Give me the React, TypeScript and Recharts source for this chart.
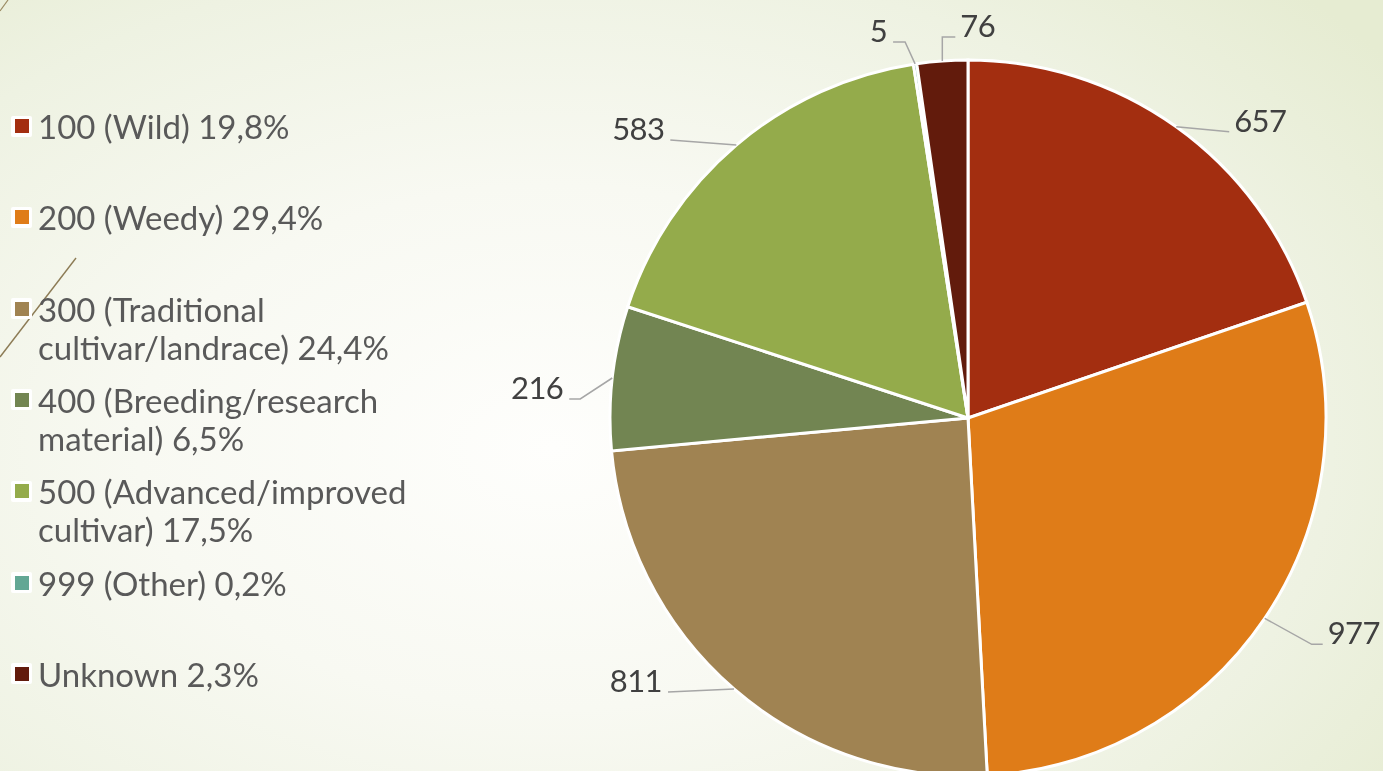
import React from 'react';
import { PieChart, Pie, Cell } from 'recharts';

const categories = [
  '100 (Wild)',
  '200 (Weedy)',
  '300 (Traditional cultivar/landrace)',
  '400 (Breeding/research material)',
  '500 (Advanced/improved cultivar)',
  '999 (Other)',
  'Unknown',
];
const counts = [657, 977, 811, 216, 583, 5, 76];
const colors = ['#A32E10', '#DF7C18', '#A08352', '#728552', '#94AB4B', '#62A794', '#621B0C'];

const total = counts.reduce((a, b) => a + b, 0);
const data = categories.map((name, i) => ({ name, value: counts[i] }));
const pctText = (v: number) => ((v / total) * 100).toFixed(1).replace('.', ',') + '%';

const FONT = 'Lato, "Open Sans", sans-serif';
const RAD = Math.PI / 180;

// leader-line shape per slice (relative to the slice edge point)
const LEADERS = [
  { ex: 53, ey: 5, hx: 0, anchor: 'start' },
  { ex: 47, ey: 26, hx: 11, anchor: 'start' },
  { ex: -66, ey: 3, hx: 0, anchor: 'end' },
  { ex: -32, ey: 21, hx: -11, anchor: 'end' },
  { ex: -66, ey: -5, hx: 0, anchor: 'end' },
  { ex: -10, ey: -22, hx: -12, anchor: 'end' },
  { ex: 0, ey: -24, hx: 13, anchor: 'start' },
];

const renderLabel = (props: any) => {
  const { cx, cy, midAngle, outerRadius, index, value } = props;
  const sx = cx + outerRadius * Math.cos(-midAngle * RAD);
  const sy = cy + outerRadius * Math.sin(-midAngle * RAD);
  const L = LEADERS[index];
  const mx = sx + L.ex;
  const my = sy + L.ey;
  const ex = mx + L.hx;
  const ey = my;
  const tx = L.anchor === 'start' ? ex + 5 : ex - 6;
  return (
    <g>
      <polyline
        points={`${sx},${sy} ${mx},${my} ${ex},${ey}`}
        fill="none"
        stroke="#A6A6A6"
        strokeWidth={1.5}
      />
      <text
        x={tx}
        y={ey}
        textAnchor={L.anchor}
        fill="#404040"
        fontSize={31}
        letterSpacing={-0.6}
        fontFamily={FONT}
      >
        {value}
      </text>
    </g>
  );
};

const W = 1383;
const H = 771;

export default function App() {
  return (
    <div
      style={{
        position: 'fixed',
        left: 0,
        top: 0,
        width: W,
        height: H,
        overflow: 'hidden',
        background:
          'radial-gradient(ellipse 75% 85% at 40% 58%, #fefefc 0%, #f8f9f2 40%, #eef2e2 75%, #e6ecd2 100%)',
      }}
    >
      <svg width={W} height={H} style={{ position: 'absolute', left: 0, top: 0 }}>
        <line x1={0} y1={11} x2={8} y2={0} stroke="#9a8a62" strokeWidth={1.2} />
        <line x1={0} y1={357} x2={76} y2={258} stroke="#8c7b55" strokeWidth={1.4} />
      </svg>
      <div style={{ position: 'absolute', left: 0, top: 0 }}>
        <PieChart width={W} height={H} margin={{ top: 0, right: 0, bottom: 0, left: 0 }}>
          <Pie
            data={data}
            dataKey="value"
            nameKey="name"
            cx={968}
            cy={418}
            outerRadius={358}
            startAngle={90}
            endAngle={-270}
            stroke="#ffffff"
            strokeWidth={3}
            label={renderLabel}
            labelLine={false}
            isAnimationActive={false}
          >
            {data.map((d, i) => (
              <Cell key={d.name} fill={colors[i]} />
            ))}
          </Pie>
        </PieChart>
      </div>
      {data.map((d, i) => (
        <div
          key={d.name}
          style={{
            position: 'absolute',
            left: 0,
            top: 126 + i * 91.3 - 19,
            width: 470,
            fontFamily: FONT,
            fontSize: 33,
            lineHeight: '38px',
            color: '#595959',
          }}
        >
          <div
            style={{
              position: 'absolute',
              left: 11,
              top: 8.5,
              width: 21,
              height: 21,
              background: '#ffffff',
              borderRadius: 2,
            }}
          >
            <div style={{ position: 'absolute', left: 3.5, top: 3.5, width: 14, height: 14, background: colors[i] }} />
          </div>
          <div style={{ marginLeft: 38, width: 415 }}>
            {d.name.replace(/\//g, '/\u2060') + ' ' + pctText(d.value)}
          </div>
        </div>
      ))}
    </div>
  );
}
